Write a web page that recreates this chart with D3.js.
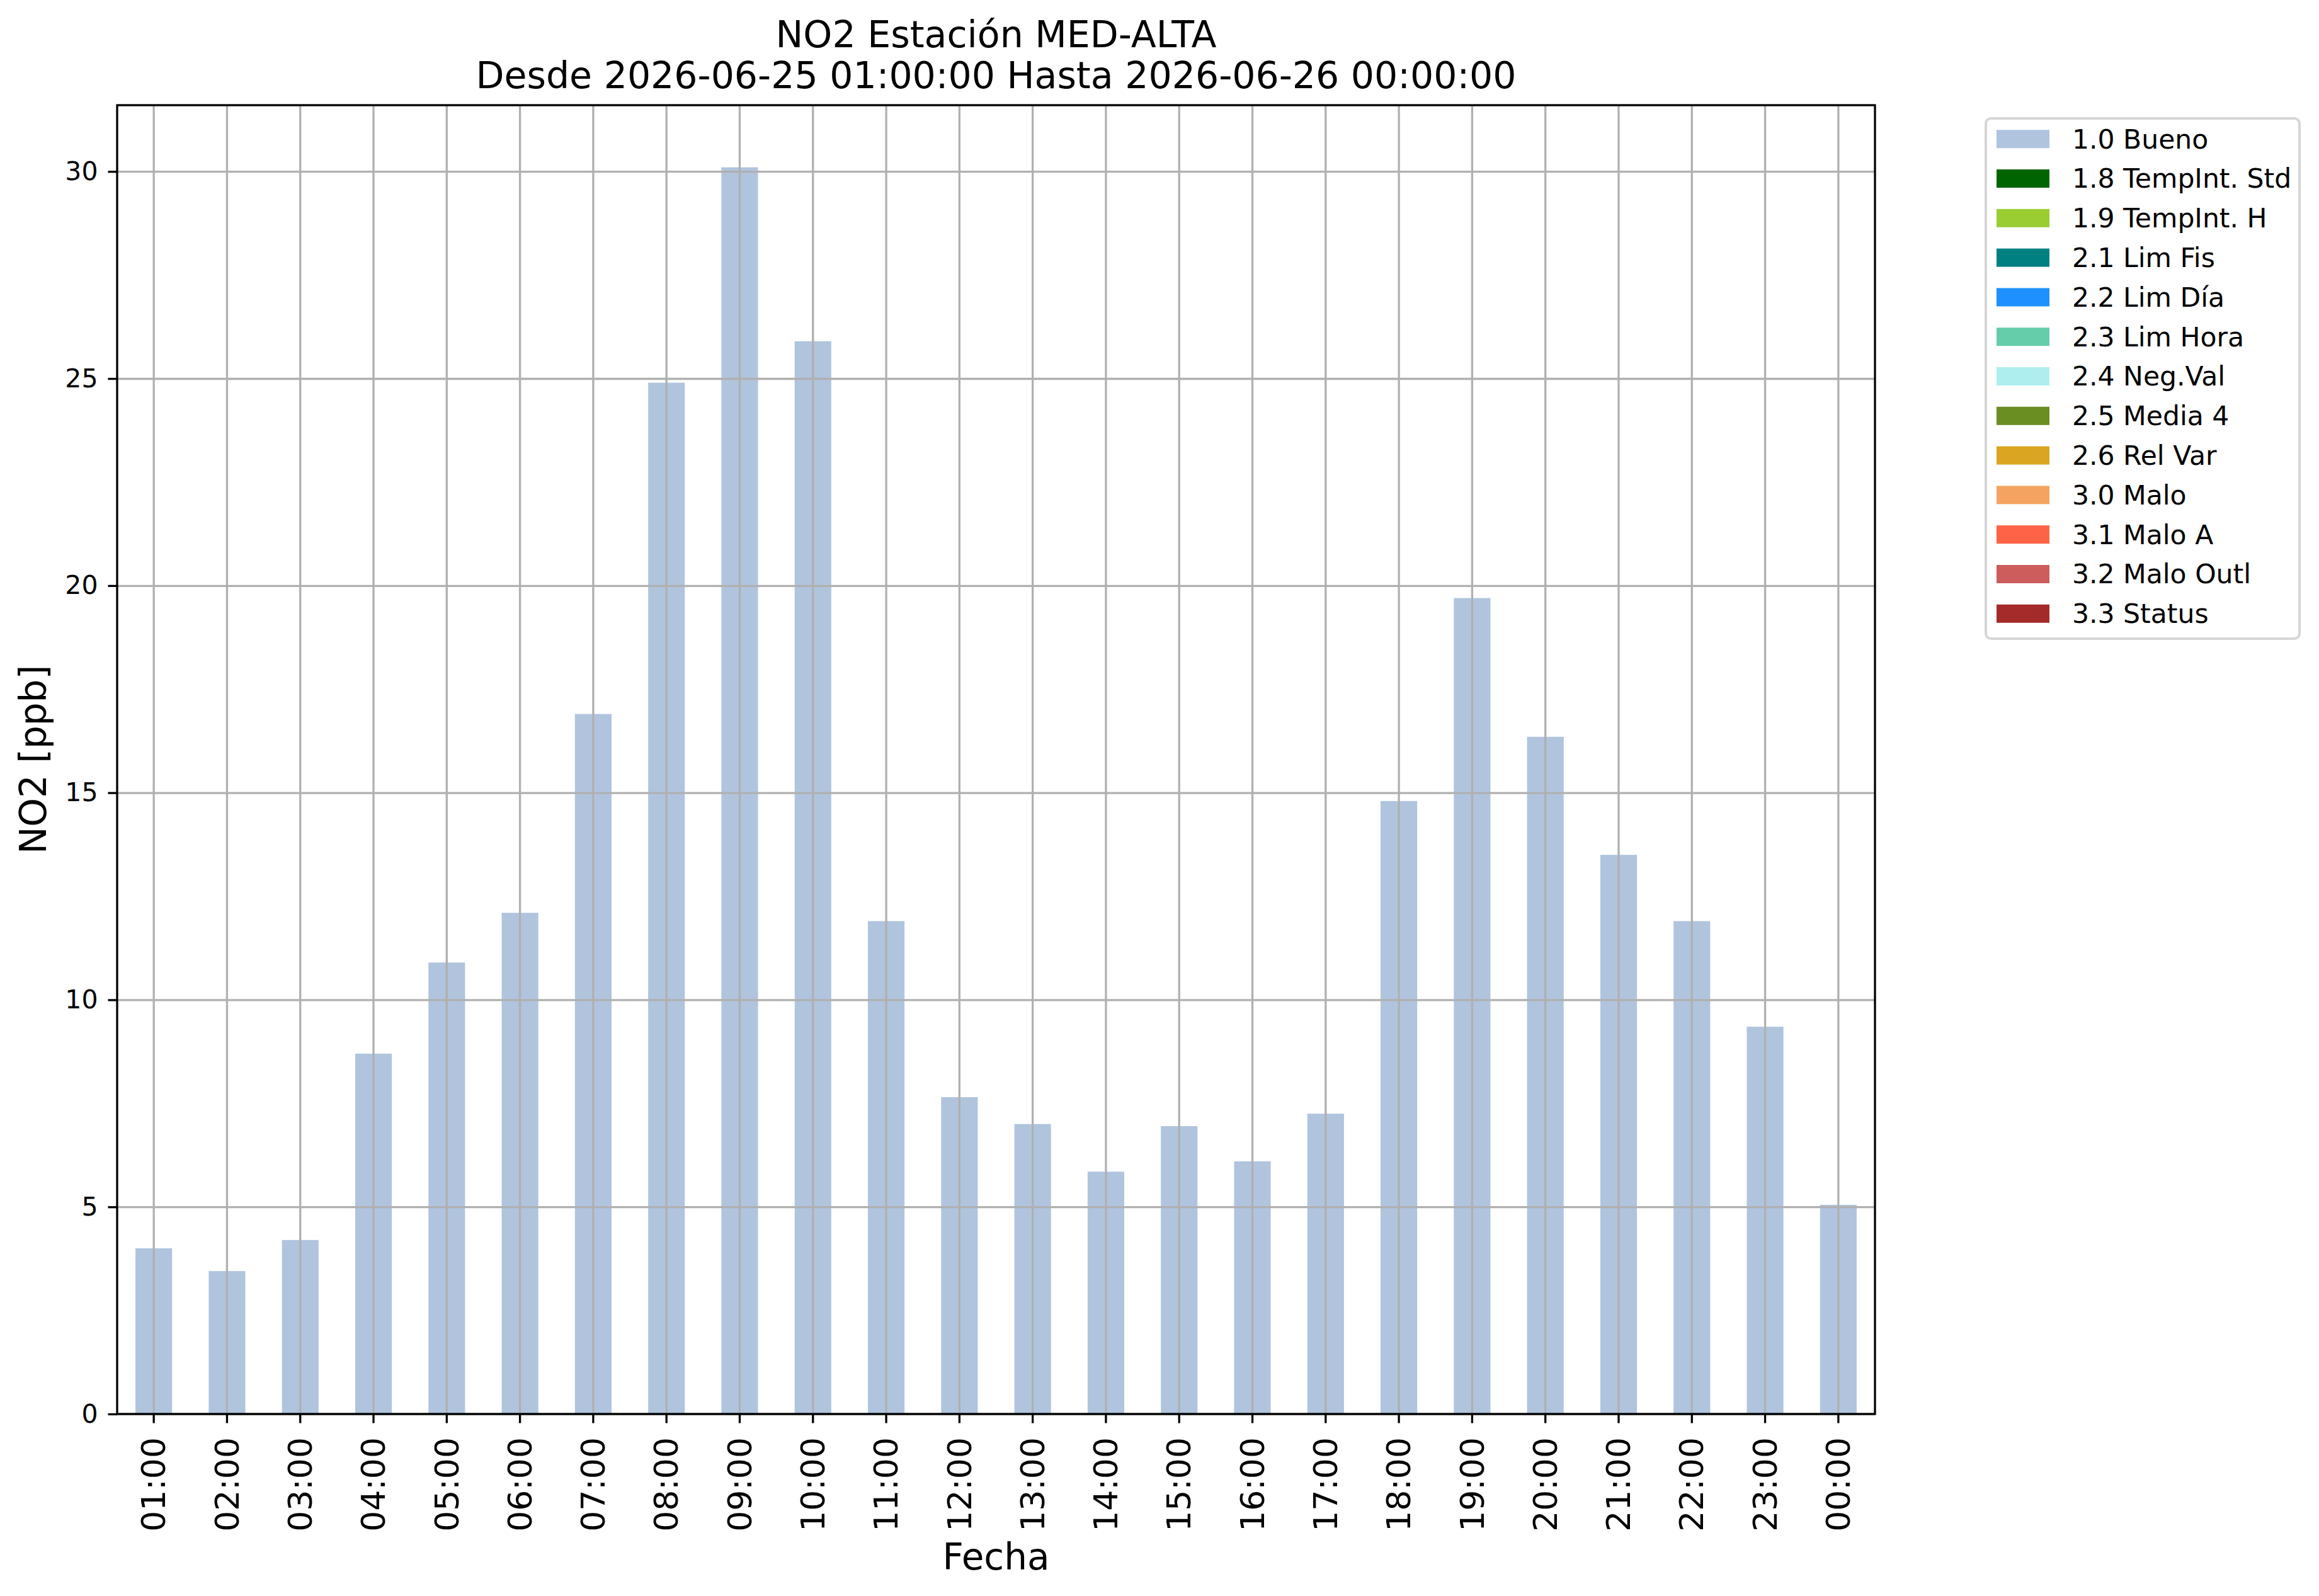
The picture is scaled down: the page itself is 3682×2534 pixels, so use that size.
<!DOCTYPE html>
<html lang="es">
<head>
<meta charset="UTF-8">
<title>NO2 MED-ALTA</title>
<script src="https://d3js.org/d3.v7.min.js"></script>
<style>
  body { margin: 0; background: #fff; }
  svg { display: block; font-family: "DejaVu Sans", sans-serif; }
</style>
</head>
<body>
<script>
// datos
const horas = ["01:00","02:00","03:00","04:00","05:00","06:00","07:00","08:00","09:00","10:00","11:00","12:00",
               "13:00","14:00","15:00","16:00","17:00","18:00","19:00","20:00","21:00","22:00","23:00","00:00"];
const no2 = [4.0, 3.45, 4.2, 8.7, 10.9, 12.1, 16.9, 24.9, 30.1, 25.9, 11.9, 7.65,
             7.0, 5.85, 6.95, 6.1, 7.25, 14.8, 19.7, 16.35, 13.5, 11.9, 9.35, 5.05];
const yTicks = [0, 5, 10, 15, 20, 25, 30];
const categorias = ["1.0 Bueno","1.8 TempInt. Std","1.9 TempInt. H","2.1 Lim Fis","2.2 Lim Día","2.3 Lim Hora",
                    "2.4 Neg.Val","2.5 Media 4","2.6 Rel Var","3.0 Malo","3.1 Malo A","3.2 Malo Outl","3.3 Status"];
const colores = ["#b0c4de","#006400","#9acd32","#008080","#1e90ff","#66cdaa",
                 "#afeeee","#6b8e23","#daa520","#f4a460","#ff6347","#cd5c5c","#a52a2a"];

const W = 3682, H = 2534;
const m = {left: 186, right: 2977, top: 167, bottom: 2245};

const svg = d3.select("body").append("svg")
    .attr("width", W).attr("height", H)
    .attr("viewBox", `0 0 ${W} ${H}`);
svg.append("rect").attr("width", W).attr("height", H).attr("fill", "white");

const x = d3.scaleBand().domain(horas).range([m.left, m.right])
    .paddingInner(0.5).paddingOuter(0.25);
const y = d3.scaleLinear().domain([0, 31.6]).range([m.bottom, m.top]);

// barras
svg.append("g").selectAll("rect")
    .data(horas)
    .enter()
    .append("rect")
    .attr("x", d => x(d))
    .attr("width", x.bandwidth())
    .attr("y", (d, i) => y(no2[i]))
    .attr("height", (d, i) => y(0) - y(no2[i]))
    .attr("fill", colores[0]);

// rejilla encima de las barras
const gridY = svg.append("g").attr("transform", `translate(${m.left},0)`)
    .call(d3.axisLeft(y).tickValues(yTicks).tickSize(-(m.right - m.left)).tickFormat(""));
const gridX = svg.append("g").attr("transform", `translate(0,${m.top})`)
    .call(d3.axisBottom(x).tickSize(m.bottom - m.top).tickFormat(""));
[gridY, gridX].forEach(g => {
  g.select(".domain").remove();
  g.selectAll("line").attr("stroke", "#b0b0b0").attr("stroke-width", 3.3);
});

// ejes
const yAxis = svg.append("g").attr("transform", `translate(${m.left},0)`)
    .call(d3.axisLeft(y).tickValues(yTicks).tickSize(14.5).tickPadding(16).tickFormat(d3.format("d")));
yAxis.select(".domain").remove();
yAxis.selectAll("line").attr("stroke", "black").attr("stroke-width", 3.3);
yAxis.selectAll("text").attr("font-size", 41).attr("fill", "black")
    .attr("font-family", "DejaVu Sans");

const xAxis = svg.append("g").attr("transform", `translate(0,${m.bottom})`)
    .call(d3.axisBottom(x).tickSize(14.5).tickPadding(0));
xAxis.select(".domain").remove();
xAxis.selectAll("line").attr("stroke", "black").attr("stroke-width", 3.3);
xAxis.selectAll("text")
    .attr("font-size", 52).attr("fill", "black").attr("font-family", "DejaVu Sans")
    .attr("text-anchor", "end")
    .attr("transform", "translate(0,37) rotate(-90)")
    .attr("x", 0).attr("y", 0).attr("dy", "0.35em");

// marco
svg.append("rect")
    .attr("x", m.left).attr("y", m.top)
    .attr("width", m.right - m.left).attr("height", m.bottom - m.top)
    .attr("fill", "none").attr("stroke", "black").attr("stroke-width", 3.3);

// titulos
const title = svg.append("text").attr("text-anchor", "middle").attr("font-size", 58.5);
title.append("tspan").attr("x", (m.left + m.right) / 2).attr("y", 75).text("NO2 Estación MED-ALTA");
title.append("tspan").attr("x", (m.left + m.right) / 2).attr("y", 140)
    .text("Desde 2026-06-25 01:00:00 Hasta 2026-06-26 00:00:00");

svg.append("text").attr("text-anchor", "middle").attr("font-size", 58)
    .attr("x", (m.left + m.right) / 2).attr("y", 2492).text("Fecha");
svg.append("text").attr("text-anchor", "middle").attr("font-size", 58)
    .attr("transform", `translate(73,${(m.top + m.bottom) / 2}) rotate(-90)`)
    .text("NO2 [ppb]");

// leyenda
const leg = svg.append("g");
leg.append("rect")
    .attr("x", 3153).attr("y", 188).attr("width", 498).attr("height", 826)
    .attr("rx", 8).attr("fill", "white").attr("stroke", "#d6d6d6").attr("stroke-width", 4);
const rows = leg.selectAll("g.row")
    .data(categorias)
    .enter()
    .append("g")
    .attr("class", "row")
    .attr("transform", (d, i) => `translate(3170,${220.7 + i * 62.8})`);
rows.append("rect")
    .attr("x", 0).attr("y", -14.5).attr("width", 84).attr("height", 29)
    .attr("fill", (d, i) => colores[i]);
rows.append("text")
    .attr("x", 120).attr("dy", "0.35em").attr("font-size", 42.5)
    .text(d => d);
</script>
</body>
</html>
